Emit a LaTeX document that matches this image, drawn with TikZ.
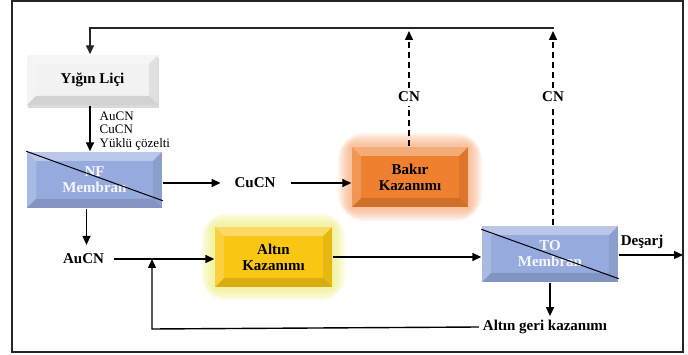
\documentclass[tikz,border=0pt]{standalone}
\usepackage{fontspec}
\setmainfont{Liberation Serif}
\usetikzlibrary{arrows.meta,shadows,backgrounds}
\definecolor{membblue}{RGB}{150,170,222}
\definecolor{cuorange}{RGB}{238,128,48}
\definecolor{auyellow}{RGB}{250,198,20}
\definecolor{orglowc}{RGB}{245,150,90}
\definecolor{yeglowc}{RGB}{235,235,110}
\newcommand{\bevw}{9pt}

\begin{document}
\begin{tikzpicture}[x=1pt, y=-1pt, line width=1.4pt,
    font=\fontsize{15}{16}\selectfont\bfseries,
    >={Triangle[length=9pt,width=8pt]}]
    \tikzstyle{every node}=[align = center]
    \tikzstyle{box} = [draw=none, inner sep=2pt]
    \tikzstyle{bevel} = [path picture={
        \coordinate (bnw) at (path picture bounding box.north west);
        \coordinate (bne) at (path picture bounding box.north east);
        \coordinate (bsw) at (path picture bounding box.south west);
        \coordinate (bse) at (path picture bounding box.south east);
        \fill[white, opacity=.35] (bnw) -- (bne) -- ([xshift=-\bevw,yshift=-\bevw]bne) -- ([xshift=\bevw,yshift=-\bevw]bnw) -- cycle;
        \fill[white, opacity=.18] (bnw) -- ([xshift=\bevw,yshift=-\bevw]bnw) -- ([xshift=\bevw,yshift=\bevw]bsw) -- (bsw) -- cycle;
        \fill[black, opacity=.07] (bne) -- ([xshift=-\bevw,yshift=-\bevw]bne) -- ([xshift=-\bevw,yshift=\bevw]bse) -- (bse) -- cycle;
        \fill[black, opacity=.13] (bsw) -- ([xshift=\bevw,yshift=\bevw]bsw) -- ([xshift=-\bevw,yshift=\bevw]bse) -- (bse) -- cycle;
    }]
    \tikzstyle{membtext} = [text=white!90!membblue]

    \useasboundingbox (0,0) rectangle (688,355);
    \draw[black!85, line width=1.2pt] (12,1) rectangle (683,352);

    % boxes
    \node[box, bevel, fill=gray!10, drop shadow={opacity=.3, shadow xshift=1pt, shadow yshift=-3pt},
          minimum width=131pt, minimum height=50pt] (yigin) at (92.5,80) {Yığın Liçi};
    \node[box, bevel, fill=membblue, membtext, minimum width=135pt, minimum height=56pt] (nf) at (94.5,180) {NF\\Membran};
    \node[box, bevel, fill=cuorange, minimum width=116pt, minimum height=60pt] (bakir) at (410,177) {Bakır\\Kazanımı};
    \node[box, bevel, fill=auyellow, minimum width=117pt, minimum height=60pt] (altin) at (273.5,257) {Altın\\Kazanımı};
    \node[box, bevel, fill=membblue, membtext, minimum width=136pt, minimum height=56pt] (to) at (550,254) {TO\\Membran};
    \draw[line width=1pt] (nf.north west) -- ([yshift=8pt]nf.south east);
    \draw[line width=1pt] ([yshift=-4pt]to.north west) -- ([yshift=4pt]to.south east);

    % glow round the recovery boxes
    \begin{scope}[on background layer]
        \foreach \w in {3,6,...,27} {
            \draw[orglowc, draw opacity=.09, line width=\w pt, rounded corners=\w/2 pt]
                (bakir.north west) rectangle (bakir.south east);
            \draw[yeglowc, draw opacity=.10, line width=\w pt, rounded corners=\w/2 pt]
                (altin.north west) rectangle (altin.south east);
        }
    \end{scope}

    % labels
    \node (cucn) at (255,183) {CuCN};
    \node (aucn) at (83.5,259) {AuCN};
    \node (cn1) at (409,97) {CN};
    \node (cn2) at (553,97) {CN};
    \node (desarj) at (642,242) {Deşarj};
    \node (geri) at (545,327) {Altın geri kazanımı};
    \node[anchor=west, align=left, inner sep=0pt, font=\fontsize{13}{13.5}\selectfont\mdseries] (yuklu) at (99,131)
        {AuCN\\CuCN\\Yüklü çözelti};

    \coordinate (topL) at (90,28);
    \coordinate (topR) at (554,28);
    \coordinate (out) at (683,255);
    \coordinate (loop) at (152,329);

    % connectors
    \draw[->, black!85] (topR) -- (topL) -- (topL |- yigin.north);
    \draw[->] (yigin.south -| topL) -- (nf.north -| topL);
    \draw[->, shorten >=10pt] (nf.east |- cucn) -- (cucn.west);
    \draw[->, shorten <=12pt] (cucn.east) -- (bakir.west |- cucn);
    \draw[dashed, dash pattern=on 6pt off 4pt] (bakir.north -| cn1) -- (cn1.south);
    \draw[->, dashed, dash pattern=on 6pt off 4pt, shorten >=3pt] (cn1.north) -- (cn1 |- topR);
    \draw[dashed, dash pattern=on 6pt off 4pt] (to.north -| cn2) -- (cn2.south);
    \draw[->, dashed, dash pattern=on 6pt off 4pt, shorten >=3pt] (cn2.north) -- (cn2 |- topR);
    \draw[->, shorten >=5pt] ([xshift=3pt]nf.south -| aucn) -- ([xshift=3pt]aucn.north);
    \draw[->, shorten <=6pt] (aucn.east) -- (altin.west |- aucn);
    \draw[->] (geri.west) -- (loop) -- (loop |- aucn);
    \draw[->] (altin.east) -- (to.west |- altin.east);
    \draw[->] (to.east |- out) -- (out);
    \draw[->] (to.south) -- (to.south |- geri.north);
\end{tikzpicture}
\end{document}
